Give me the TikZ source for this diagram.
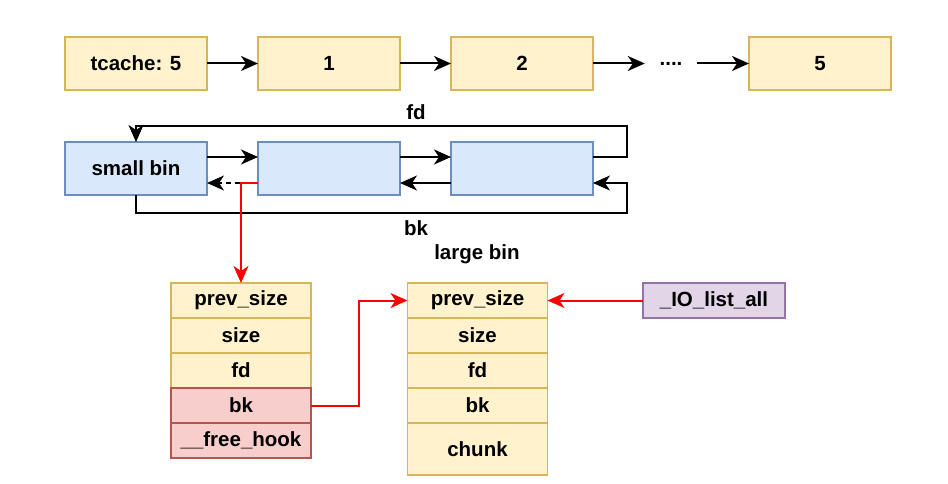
\documentclass[tikz,border=0pt]{standalone}
\usepackage{fontspec}
\setmainfont{Liberation Sans}
\usetikzlibrary{positioning,arrows.meta}
\definecolor{yelfill}{HTML}{FFF2CC}
\definecolor{yelline}{HTML}{D6B656}
\definecolor{blufill}{HTML}{DAE8FC}
\definecolor{bluline}{HTML}{6C8EBF}
\definecolor{redfill}{HTML}{F8CECC}
\definecolor{redline}{HTML}{B85450}
\definecolor{purfill}{HTML}{E1D5E7}
\definecolor{purline}{HTML}{9673A6}
\definecolor{ptrred}{HTML}{FF0000}
\tikzset{
    cell/.style={draw=#1line, fill=#1fill, line width=1.5pt, inner sep=0pt, outer sep=0pt, minimum width=142pt, minimum height=53pt},
    cell/.default={yel},
    field/.style={cell=#1, minimum width=140pt, minimum height=35pt},
    field/.default={yel},
    link/.style={-{Stealth[length=17pt,width=15pt,inset=5pt]}, line width=2pt},
    redlink/.style={link, draw=ptrred}
}

\begin{document}
\begin{tikzpicture}[x=1pt, y=-1pt, node distance=51pt, font=\fontsize{20.5}{24}\selectfont\bfseries]
    \useasboundingbox (0,0) rectangle (948,484);
    % tcache row
    \node[cell](tc) at (136,63.5){tcache: 5};
    \node[cell, right=of tc](t1){1};
    \node[cell, right=of t1](t2){2};
    \node[minimum width=52pt, inner sep=0pt](dots) at (671,63.5){....};
    \node[cell](t5) at (820,63.5){5};
    \draw[link](tc)--(t1); \draw[link](t1)--(t2);
    \draw[link](t2)--(dots); \draw[link](dots)--(t5);
    % small bin row
    \node[cell=blu](sb) at (136,168.5){small bin};
    \node[cell=blu, right=of sb](m1){};
    \node[cell=blu, right=of m1](m2){};
    \draw[link]([yshift=11.5pt]sb.east)--([yshift=11.5pt]m1.west);
    \draw[link]([yshift=11.5pt]m1.east)--([yshift=11.5pt]m2.west);
    \draw[link]([yshift=-14.5pt]m2.west)--([yshift=-14.5pt]m1.east);
    \draw[link, dash pattern=on 5pt off 4pt]([yshift=-14.5pt]m1.west)--([yshift=-14.5pt]sb.east);
    \coordinate(fdc) at (627,126);
    \coordinate(bkc) at (627,213);
    \draw[link]([yshift=11.5pt]m2.east)-|(fdc)-|(sb.north);
    \draw[link](sb.south)|-(bkc)|-([yshift=-14.5pt]m2.east);
    \node(fd) at (416,112){fd};
    \node(bk) at (416,228){bk};
    \node(lb) at (477,254){large bin};
    % chunks
    \node[field](lprev) at (241,300.5){prev\_size};
    \node[field, below=0pt of lprev](lsize){size};
    \node[field, below=0pt of lsize](lfd){fd};
    \node[field=red, below=0pt of lfd](lbk){bk};
    \node[field=red, below=0pt of lbk](lhook){\_\_free\_hook};
    \node[field](rprev) at (477.5,300.5){prev\_size};
    \node[field, below=0pt of rprev](rsize){size};
    \node[field, below=0pt of rsize](rfd){fd};
    \node[field, below=0pt of rfd](rbk){bk};
    \node[field, below=0pt of rbk, minimum height=52pt](rchunk){chunk};
    \node[field=pur, minimum width=142pt](io) at (714,300.5){\_IO\_list\_all};
    \draw[redlink]([yshift=-14.5pt]m1.west)-|(lprev.north);
    \draw[redlink](lbk.east)--++(48,0)|-(rprev.west);
    \draw[redlink](io.west)--(rprev.east);
\end{tikzpicture}
\end{document}
